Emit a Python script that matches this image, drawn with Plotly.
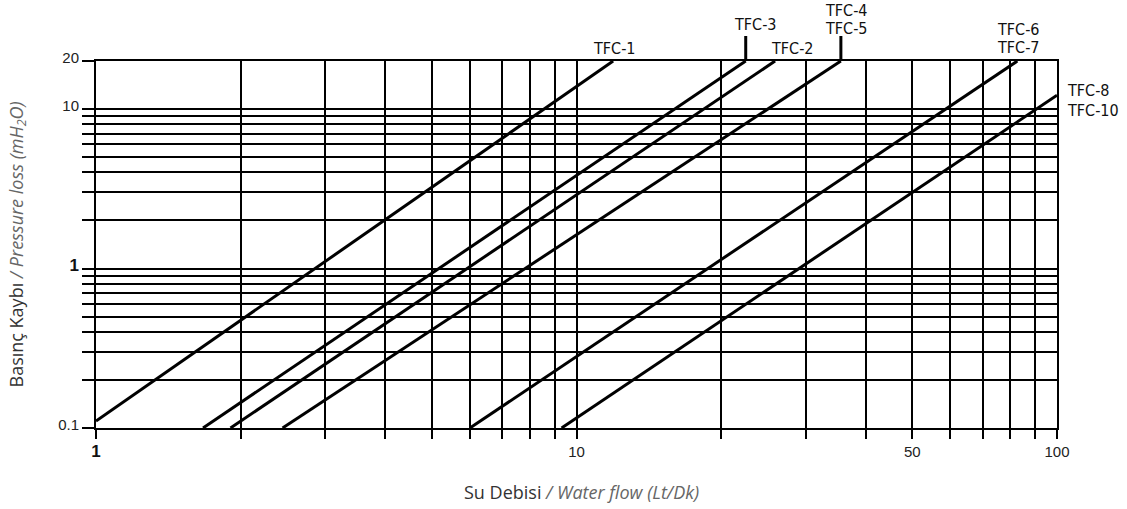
import math
import plotly.graph_objects as go

# ---- data ----
series_names = ["TFC-1", "TFC-3", "TFC-2", "TFC-4 / TFC-5", "TFC-6 / TFC-7", "TFC-8 / TFC-10"]
flow_start = [1.0, 1.67, 1.905, 2.445, 6.0, 9.31]
loss_start = [0.1106, 0.1, 0.1, 0.1, 0.1, 0.1]
flow_end = [11.92, 22.5, 25.9, 35.5, 82.7, 100.0]
loss_end = [20.0, 20.0, 20.0, 20.0, 20.0, 12.2]

x_tickvals = [1, 2, 3, 4, 5, 6, 7, 8, 9, 10, 20, 30, 40, 50, 60, 70, 80, 90, 100]
x_ticktext = ["<b><span style='font-size:17px;color:#111'>1</span></b>", " ", " ", " ", " ", " ", " ", " ", " ", "10",
              " ", " ", " ", "50", " ", " ", " ", " ", "100"]
y_tickvals = [0.1, 0.2, 0.3, 0.4, 0.5, 0.6, 0.7, 0.8, 0.9, 1, 2, 3, 4, 5, 6, 7, 8, 9, 10, 20]
y_ticktext = ["0.1", " ", " ", " ", " ", " ", " ", " ", " ", "<b><span style='font-size:17px;color:#111'>1</span></b>",
              " ", " ", " ", " ", " ", " ", " ", " ", "10", "20"]

fig = go.Figure()
for name, x0, y0, x1, y1 in zip(series_names, flow_start, loss_start, flow_end, loss_end):
    fig.add_trace(go.Scatter(x=[x0, x1], y=[y0, y1], mode="lines", name=name,
                             line=dict(color="black", width=3), showlegend=False,
                             cliponaxis=False))

lab_font = dict(family="DejaVu Sans Condensed, DejaVu Sans", size=16, color="#111")

def label(text, xval, dx, dy_px, xanchor="center"):
    # dy_px: pixels above the top of the plot area
    fig.add_annotation(text=text, x=math.log10(xval), xref="x", y=1, yref="paper",
                       xshift=dx, yshift=dy_px, showarrow=False, font=lab_font,
                       xanchor=xanchor, yanchor="middle")

label("TFC-1", flow_end[0], 1, 13)
label("TFC-3", flow_end[1], 9, 37)
label("TFC-2", flow_end[2], 17, 13)
label("TFC-4", flow_end[3], 5, 51)
label("TFC-5", flow_end[3], 5, 33)
label("TFC-6", flow_end[4], 1, 32)
label("TFC-7", flow_end[4], 1, 14)
fig.add_annotation(text="TFC-8", x=1, xref="paper", y=math.log10(loss_end[5]), yref="y",
                   xshift=8, yshift=5, showarrow=False, font=lab_font, xanchor="left", yanchor="middle")
fig.add_annotation(text="TFC-10", x=1, xref="paper", y=math.log10(loss_end[5]), yref="y",
                   xshift=8, yshift=-15, showarrow=False, font=lab_font, xanchor="left", yanchor="middle")

# leader ticks above TFC-3 and TFC-4/5
for xv in (flow_end[1], flow_end[3]):
    fig.add_shape(type="line", xref="x", yref="paper", x0=xv, x1=xv,
                  y0=1, y1=1 + 25 / 367, line=dict(color="black", width=3))

# axis titles
fig.add_annotation(text="Su Debisi<span style='color:#666'><i> / Water flow (Lt/Dk)</i></span>",
                   x=0.5047, xref="paper", y=0, yref="paper", yshift=-64, showarrow=False,
                   font=dict(family="Open Sans", size=18, color="#333"), xanchor="center", yanchor="middle")
fig.add_annotation(text="Basınç Kaybı<span style='color:#666'><i> / Pressure loss (mH<sub>2</sub>O)</i></span>",
                   x=0, xref="paper", xshift=-79, y=0.5, yref="paper", textangle=-90, showarrow=False,
                   font=dict(family="Open Sans", size=18, color="#333"), xanchor="center", yanchor="middle")

fig.update_xaxes(type="log", range=[0, 2], tickvals=x_tickvals, ticktext=x_ticktext,
                 showgrid=True, gridcolor="black", gridwidth=2,
                 ticks="outside", ticklen=9, tickwidth=2, tickcolor="black",
                 showline=True, linecolor="black", linewidth=2, mirror=True,
                 tickfont=dict(family="Liberation Sans", size=15, color="#222"), zeroline=False)
fig.update_yaxes(type="log", range=[-1, math.log10(20)], tickvals=y_tickvals, ticktext=y_ticktext,
                 showgrid=True, gridcolor="black", gridwidth=2,
                 ticks="outside", ticklen=12, tickwidth=2, tickcolor="black",
                 showline=True, linecolor="black", linewidth=2, mirror=True,
                 ticklabelshift=-3,
                 tickfont=dict(family="Liberation Sans", size=15, color="#222"), zeroline=False)

fig.update_layout(width=1127, height=509, margin=dict(l=96, r=70, t=61, b=81),
                  plot_bgcolor="white", paper_bgcolor="white", showlegend=False)

fig.write_html("out.html", config={"displayModeBar": False},
               post_script="document.body.style.margin='0';document.body.style.overflow='hidden';")
